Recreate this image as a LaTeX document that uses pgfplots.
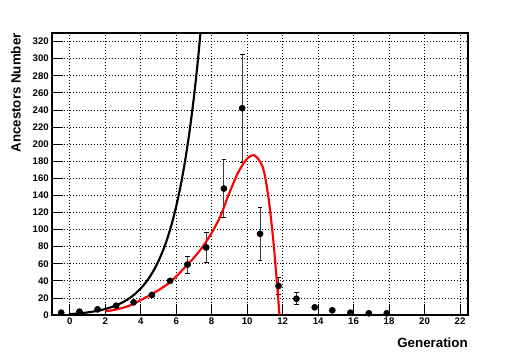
\documentclass[border=0pt]{standalone}
\usepackage{pgfplots}
\pgfplotsset{compat=1.18}
\usepackage{fontspec}
\setmainfont{Liberation Sans}

\begin{document}
\begin{tikzpicture}
\useasboundingbox (-39pt,-29.25pt) rectangle (352.5pt,236.25pt);
\begin{axis}[
    at={(0,0)}, anchor=south west,
    scale only axis,
    width=312pt, height=211.5pt,
    xmin=-1, xmax=22.45,
    ymin=0, ymax=330,
    xtick={0,2,...,22},
    ytick={0,20,...,320},
    minor tick num=0,
    tick align=inside,
    major tick length=8pt,
    tick style={black, line width=0.6pt},
    xtick pos=bottom, ytick pos=left,
    axis line style={line width=1.4pt},
    grid=major,
    major grid style={black, line width=0.5pt, dash pattern=on 0.75pt off 1.5pt},
    /pgf/number format/assume math mode=true,
    tick label style={font=\bfseries\fontsize{7.2}{8}\selectfont},
    yticklabel style={inner sep=0pt, xshift=-2.25pt},
    xticklabel style={inner sep=0pt, yshift=-2pt},
    clip=true,
]
% data points
\addplot[only marks, mark=*, mark size=2.3pt, black,
    error bars/.cd, y dir=both, y explicit,
    error bar style={black!75, line width=0.7pt},
    error mark options={rotate=90, mark size=1.8pt, black, line width=0.7pt}]
coordinates {
    (-0.48,2.7) +- (0,0)
    (0.55,3.9) +- (0,0)
    (1.57,6.6) +- (0,0)
    (2.62,10.9) +- (0,0)
    (3.6,14.8) +- (0,0)
    (4.63,23.4) +- (0,0)
    (5.66,40) +- (0,0)
    (6.64,59) +- (0,10)
    (7.69,79) +- (0,17)
    (8.69,148) +- (0,34)
    (9.72,242) +- (0,63)
    (10.73,95) +- (0,31)
    (11.77,34) +- (0,10)
    (12.78,19) +- (0,7)
    (13.81,9) +- (0,0)
    (14.8,5.5) +- (0,0)
    (15.82,2.7) +- (0,0)
    (16.86,2) +- (0,0)
    (17.87,2) +- (0,0)
};
% black curve
\addplot[black, line width=1.6pt, smooth, no marks] coordinates {
    (0,1) (0.25,1.378) (0.5,1.828) (0.75,2.364) (1,3) (1.25,3.757)
    (1.5,4.657) (1.75,5.727) (2,7) (2.25,8.514) (2.5,10.31) (2.75,12.45)
    (3,15) (3.25,18.03) (3.5,21.63) (3.75,25.91) (4,31) (4.25,37.05)
    (4.5,44.25) (4.75,52.82) (5,63) (5.25,75.11) (5.5,89.51) (5.75,106.6)
    (6,127) (6.25,151.2) (6.5,180.0) (6.75,214.3) (7,255) (7.25,303.4)
    (7.5,361.0)
};
% red curve
\addplot[red, line width=1.6pt, smooth, no marks] coordinates {
    (2.0,4.2) (2.5,6) (3,8.5) (3.5,12) (4,17.5) (4.5,23) (5,29)
    (5.5,36) (6,45) (6.5,56) (7,67) (7.5,80) (8,96) (8.5,116)
    (9,143) (9.5,167) (10,183) (10.4,187) (10.8,177) (11.0,163)
    (11.25,130) (11.5,82) (11.65,45) (11.75,20) (11.82,0)
};
\end{axis}
\node[rotate=90, anchor=base east, inner sep=0pt, font=\bfseries\fontsize{10}{12}\selectfont]
    at (-23.5pt,211.5pt) {Ancestors Number};
\node[anchor=base east, inner sep=0pt, font=\bfseries\fontsize{10}{12}\selectfont]
    at (312pt,-24.2pt) {Generation};
\end{tikzpicture}
\end{document}
